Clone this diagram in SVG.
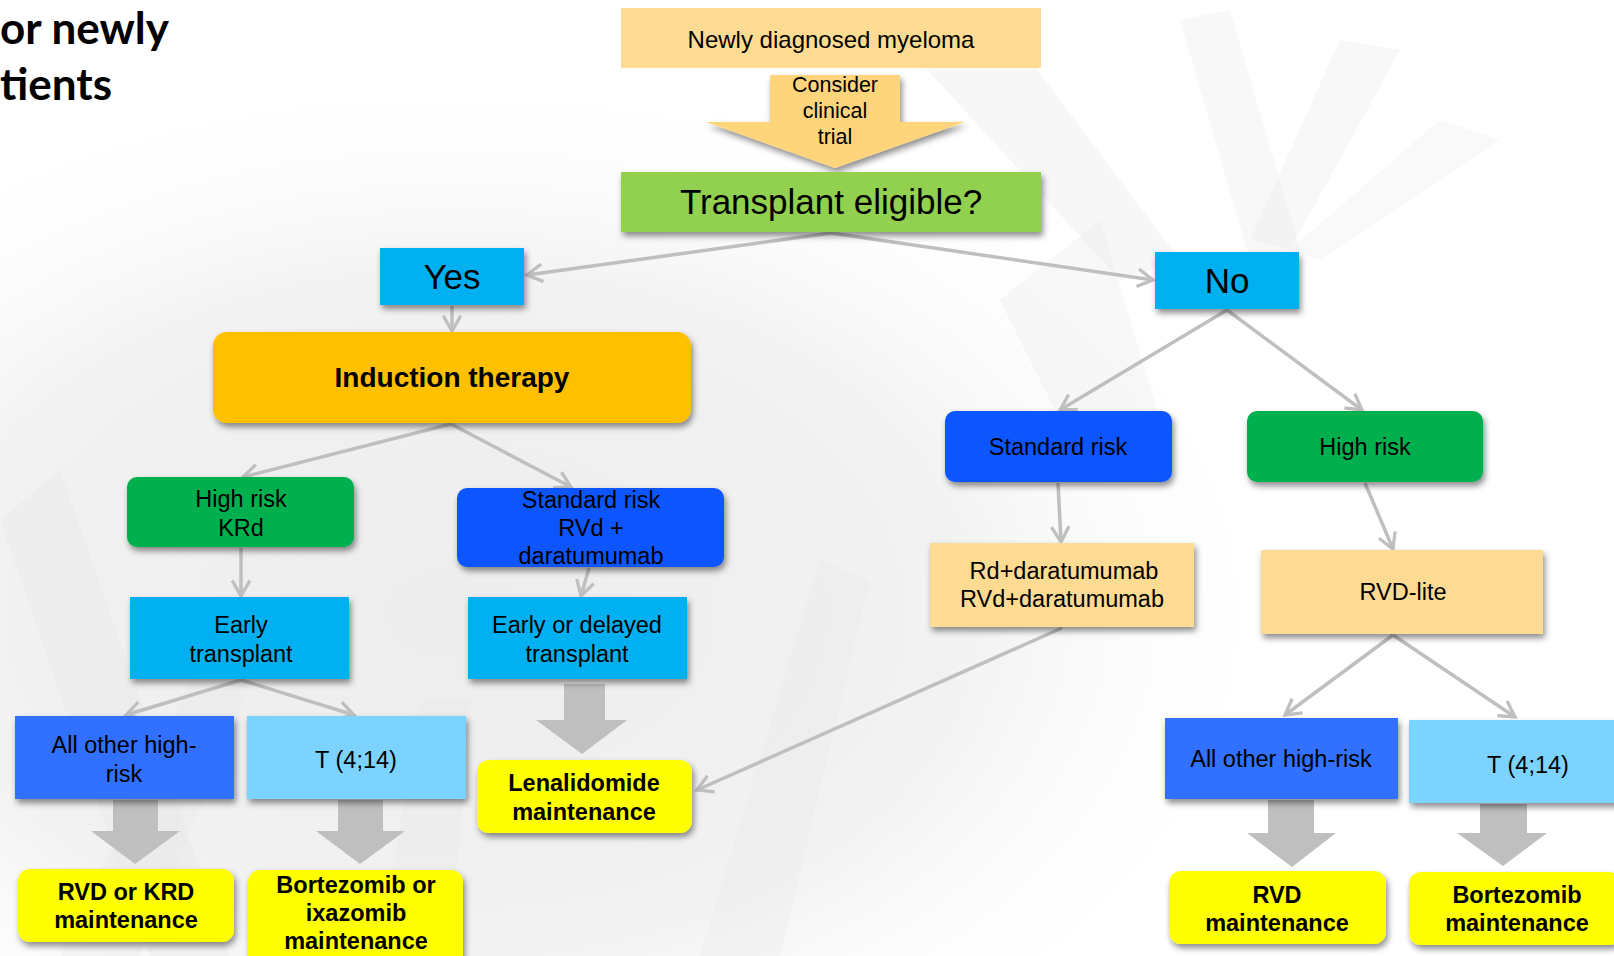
<svg xmlns="http://www.w3.org/2000/svg" width="1614" height="956" viewBox="0 0 1614 956">
<defs>
<style>
.t{font-family:"Liberation Sans",Arial,sans-serif;fill:#000;text-anchor:middle}
.b{font-weight:bold}
.s23{font-size:23.5px}
.big{font-size:35px}
.con{stroke:#BFBFBF;stroke-width:3.5;fill:none;marker-end:url(#ah)}
.blk{fill:#BFBFBF}
.sh{filter:url(#ds)}
.bg{fill:#E8E8E8}
</style>
<marker id="ah" viewBox="0 0 20 20" refX="17" refY="10" markerWidth="22" markerHeight="22" markerUnits="userSpaceOnUse" orient="auto">
<path d="M3,2 L17,10 L3,18" fill="none" stroke="#BFBFBF" stroke-width="3"/>
</marker>
<filter id="ds" x="-10%" y="-10%" width="125%" height="140%">
<feDropShadow dx="2" dy="4" stdDeviation="3" flood-color="#000" flood-opacity="0.45"/>
</filter>
<radialGradient id="bgg" cx="0.35" cy="0.6" r="0.65">
<stop offset="0" stop-color="#EDEDED"/>
<stop offset="0.6" stop-color="#F2F2F2"/>
<stop offset="1" stop-color="#FFFFFF" stop-opacity="0"/>
</radialGradient>
</defs>
<rect width="1614" height="956" fill="#FFFFFF"/>
<g id="background">
<rect x="0" y="100" width="1300" height="856" fill="url(#bgg)"/>
<polygon class="bg" points="0,520 60,470 230,956 150,956" opacity="0.45"/>
<polygon class="bg" points="60,956 210,640 260,660 140,956" opacity="0.35"/>
<polygon class="bg" points="380,956 420,700 470,700 450,956" opacity="0.35"/>
<polygon class="bg" points="700,956 820,560 870,580 780,956" opacity="0.3"/>
<polygon class="bg" points="900,40 1000,20 1180,260 1120,280" opacity="0.35"/>
<polygon class="bg" points="1180,20 1230,10 1300,250 1250,260" opacity="0.3"/>
<polygon class="bg" points="1340,40 1400,50 1290,250 1250,240" opacity="0.3"/>
<polygon class="bg" points="1440,120 1500,140 1320,260 1290,250" opacity="0.25"/>
<polygon class="bg" points="1000,300 1100,220 1160,420 1060,420" opacity="0.3"/>
</g>
<g id="title">
<text x="0" y="44" font-family="Lato,'Liberation Sans',sans-serif" font-weight="bold" font-size="44" fill="#000">or newly</text>
<text x="0" y="100" font-family="Lato,'Liberation Sans',sans-serif" font-weight="bold" font-size="44" fill="#000">tients</text>
</g>
<g id="connectors">
<line class="con" x1="831" y1="233" x2="527" y2="275"/>
<line class="con" x1="831" y1="233" x2="1153" y2="280"/>
<line class="con" x1="452" y1="306" x2="452" y2="331"/>
<line class="con" x1="451" y1="424" x2="243" y2="477"/>
<line class="con" x1="451" y1="424" x2="571" y2="487"/>
<line class="con" x1="241" y1="548" x2="241" y2="596"/>
<line class="con" x1="589" y1="568" x2="581" y2="596"/>
<line class="con" x1="241" y1="680" x2="126" y2="715"/>
<line class="con" x1="241" y1="680" x2="354" y2="715"/>
<line class="con" x1="1227" y1="310" x2="1060" y2="410"/>
<line class="con" x1="1227" y1="310" x2="1362" y2="410"/>
<line class="con" x1="1058" y1="483" x2="1061" y2="542"/>
<line class="con" x1="1365" y1="483" x2="1393" y2="549"/>
<line class="con" x1="1062" y1="628" x2="697" y2="790"/>
<line class="con" x1="1393" y1="635" x2="1285" y2="715"/>
<line class="con" x1="1393" y1="635" x2="1515" y2="717"/>
<polygon class="blk" points="564,684 605,684 605,720 627,720 582,754 536,720 564,720"/>
<polygon class="blk" points="113,800 158,800 158,831 180,831 135,864 91,831 113,831"/>
<polygon class="blk" points="338,800 383,800 383,831 405,831 360,864 316,831 338,831"/>
<polygon class="blk" points="1268,800 1314,800 1314,833 1336,833 1292,867 1247,833 1268,833"/>
<polygon class="blk" points="1480,804 1527,804 1527,833 1547,833 1503,866 1457,833 1480,833"/>
</g>
<g id="n-newly">
<rect x="621" y="8" width="420" height="60" fill="#FEDB92"/>
<text class="t" x="831" y="48" font-size="24">Newly diagnosed myeloma</text>
</g>
<g id="n-consider">
<polygon points="770,75 900,75 900,122 965,122 835,168 706,122 770,122" fill="#FFD57C" class="sh"/>
<text class="t" x="835" y="92" font-size="21.5">Consider</text>
<text class="t" x="835" y="118" font-size="21.5">clinical</text>
<text class="t" x="835" y="144" font-size="21.5">trial</text>
</g>
<g id="n-transplant">
<rect x="621" y="172" width="420" height="60" fill="#92D050" class="sh"/>
<text class="t big" x="831" y="214">Transplant eligible?</text>
</g>
<g id="n-yes">
<rect x="380" y="248" width="144" height="57" fill="#00B0F0" class="sh"/>
<text class="t big" x="452" y="289">Yes</text>
</g>
<g id="n-no">
<rect x="1155" y="252" width="144" height="57" fill="#00B0F0" class="sh"/>
<text class="t big" x="1227" y="293">No</text>
</g>
<g id="n-induction">
<rect x="213" y="332" width="478" height="91" rx="14" fill="#FFC000" class="sh"/>
<text class="t b" x="452" y="387" font-size="28">Induction therapy</text>
</g>
<g id="n-krd">
<rect x="127" y="477" width="227" height="70" rx="10" fill="#00B050" class="sh"/>
<text class="t s23" x="241" y="507">High risk</text>
<text class="t s23" x="241" y="536">KRd</text>
</g>
<g id="n-rvd">
<rect x="457" y="488" width="267" height="79" rx="10" fill="#1155FF" class="sh"/>
<text class="t s23" x="591" y="508">Standard risk</text>
<text class="t s23" x="591" y="536">RVd +</text>
<text class="t s23" x="591" y="564">daratumumab</text>
</g>
<g id="n-early">
<rect x="130" y="597" width="219" height="82" fill="#00B0F0" class="sh"/>
<text class="t s23" x="241" y="633">Early</text>
<text class="t s23" x="241" y="662">transplant</text>
</g>
<g id="n-delayed">
<rect x="468" y="597" width="219" height="82" fill="#00B0F0" class="sh"/>
<text class="t s23" x="577" y="633">Early or delayed</text>
<text class="t s23" x="577" y="662">transplant</text>
</g>
<g id="n-std-right">
<rect x="945" y="411" width="227" height="71" rx="10" fill="#1155FF" class="sh"/>
<text class="t s23" x="1058" y="455">Standard risk</text>
</g>
<g id="n-high-right">
<rect x="1247" y="411" width="236" height="71" rx="10" fill="#00B050" class="sh"/>
<text class="t s23" x="1365" y="455">High risk</text>
</g>
<g id="n-rd">
<rect x="930" y="543" width="264" height="84" fill="#FEDB92" class="sh"/>
<text class="t s23" x="1064" y="579">Rd+daratumumab</text>
<text class="t s23" x="1062" y="607">RVd+daratumumab</text>
</g>
<g id="n-rvdlite">
<rect x="1261" y="550" width="282" height="84" fill="#FEDB92" class="sh"/>
<text class="t s23" x="1403" y="600">RVD-lite</text>
</g>
<g id="n-allother-left">
<rect x="15" y="716" width="219" height="83" fill="#3370FF" class="sh"/>
<text class="t s23" x="124" y="753">All other high-</text>
<text class="t s23" x="124" y="782">risk</text>
</g>
<g id="n-t414-left">
<rect x="247" y="716" width="219" height="83" fill="#7DD3FF" class="sh"/>
<text class="t s23" x="356" y="768">T (4;14)</text>
</g>
<g id="n-lenalidomide">
<rect x="477" y="760" width="215" height="73" rx="12" fill="#FFFF00" class="sh"/>
<text class="t b s23" x="584" y="791">Lenalidomide</text>
<text class="t b s23" x="584" y="820">maintenance</text>
</g>
<g id="n-rvdkrd">
<rect x="18" y="869" width="216" height="73" rx="12" fill="#FFFF00" class="sh"/>
<text class="t b s23" x="126" y="900">RVD or KRD</text>
<text class="t b s23" x="126" y="928">maintenance</text>
</g>
<g id="n-bort-ixa">
<rect x="248" y="870" width="215" height="100" rx="12" fill="#FFFF00" class="sh"/>
<text class="t b s23" x="356" y="893">Bortezomib or</text>
<text class="t b s23" x="356" y="921">ixazomib</text>
<text class="t b s23" x="356" y="949">maintenance</text>
</g>
<g id="n-allother-right">
<rect x="1165" y="718" width="233" height="81" fill="#3370FF" class="sh"/>
<text class="t s23" x="1281" y="767">All other high-risk</text>
</g>
<g id="n-t414-right">
<rect x="1409" y="720" width="215" height="83" fill="#7DD3FF" class="sh"/>
<text class="t s23" x="1528" y="773">T (4;14)</text>
</g>
<g id="n-rvd-maint">
<rect x="1169" y="871" width="217" height="73" rx="12" fill="#FFFF00" class="sh"/>
<text class="t b s23" x="1277" y="903">RVD</text>
<text class="t b s23" x="1277" y="931">maintenance</text>
</g>
<g id="n-bort-maint">
<rect x="1409" y="872" width="212" height="73" rx="12" fill="#FFFF00" class="sh"/>
<text class="t b s23" x="1517" y="903">Bortezomib</text>
<text class="t b s23" x="1517" y="931">maintenance</text>
</g>
</svg>
